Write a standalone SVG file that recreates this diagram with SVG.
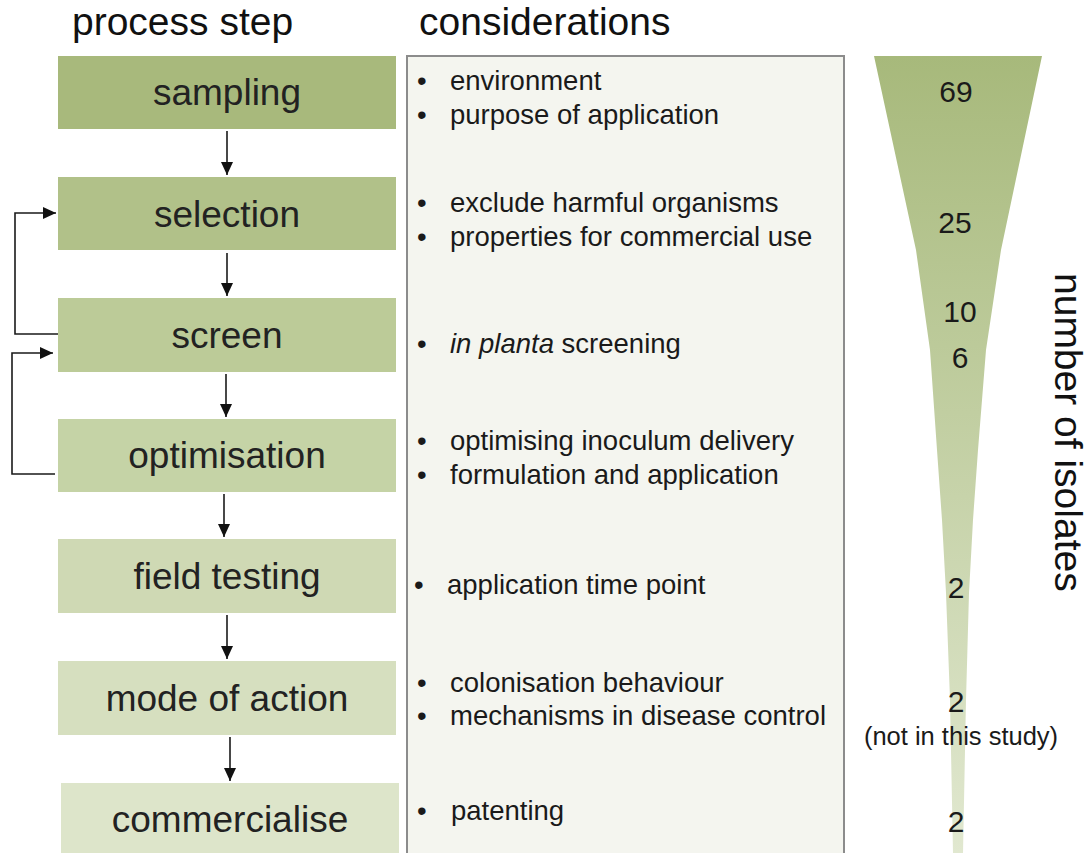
<svg xmlns="http://www.w3.org/2000/svg" width="1090" height="853" viewBox="0 0 1090 853">
<style>
text{font-family:"Liberation Sans",Arial,sans-serif;fill:#1a1a1a}
.head{font-size:39px;fill:#111}
.lbl{font-size:37px;text-anchor:middle;fill:#222}
.bul{font-size:27.5px}
.num{font-size:30px;text-anchor:middle}
.conn{fill:none;stroke:#1a1a1a;stroke-width:1.6}
</style>
<defs>
<marker id="ah" markerUnits="userSpaceOnUse" markerWidth="13" markerHeight="12" refX="13" refY="6" orient="auto">
<path d="M0,0 L13,6 L0,12 Z" fill="#111"/>
</marker>
<linearGradient id="fg" x1="0" y1="56" x2="0" y2="853" gradientUnits="userSpaceOnUse">
<stop offset="0" stop-color="#a7b97b"/>
<stop offset="1" stop-color="#e1e8d0"/>
</linearGradient>
</defs>
<rect width="1090" height="853" fill="#ffffff"/>
<text class="head" x="72" y="35">process step</text>
<text class="head" x="419" y="35">considerations</text>

<g id="node-sampling"><rect x="58" y="56" width="338" height="73" fill="#a8b97c"/><text class="lbl" x="227" y="105">sampling</text></g>
<g id="node-selection"><rect x="58" y="177" width="338" height="73" fill="#b1c189"/><text class="lbl" x="227" y="227">selection</text></g>
<g id="node-screen"><rect x="58" y="298" width="338" height="74" fill="#bccb98"/><text class="lbl" x="227" y="348">screen</text></g>
<g id="node-optimisation"><rect x="58" y="419" width="338" height="73" fill="#c5d3a6"/><text class="lbl" x="227" y="468">optimisation</text></g>
<g id="node-field"><rect x="58" y="539" width="338" height="74" fill="#cfd9b4"/><text class="lbl" x="227" y="589">field testing</text></g>
<g id="node-mode"><rect x="58" y="661" width="338" height="74" fill="#d6dfbf"/><text class="lbl" x="227" y="711">mode of action</text></g>
<g id="node-commercialise"><rect x="61" y="783" width="338" height="80" fill="#dde5ca"/><text class="lbl" x="230" y="832">commercialise</text></g>

<g id="connectors">
<line class="conn" x1="227" y1="131" x2="227" y2="175" marker-end="url(#ah)"/>
<line class="conn" x1="227" y1="253" x2="227" y2="296" marker-end="url(#ah)"/>
<line class="conn" x1="226" y1="374" x2="226" y2="417" marker-end="url(#ah)"/>
<line class="conn" x1="224" y1="494" x2="224" y2="537" marker-end="url(#ah)"/>
<line class="conn" x1="227" y1="615" x2="227" y2="659" marker-end="url(#ah)"/>
<line class="conn" x1="230" y1="737" x2="230" y2="781" marker-end="url(#ah)"/>
<polyline class="conn" points="58,334 15,334 15,213 56,213" marker-end="url(#ah)"/>
<polyline class="conn" points="55,474 12,474 12,353 53,353" marker-end="url(#ah)"/>
</g>

<g id="considerations">
<rect x="407" y="56" width="437" height="810" fill="#f4f5ef" stroke="#8c8c8c" stroke-width="2"/>
<g class="bul">
<text x="417" y="90">•</text><text x="450" y="90">environment</text>
<text x="417" y="124">•</text><text x="450" y="124">purpose of application</text>
<text x="417" y="212">•</text><text x="450" y="212">exclude harmful organisms</text>
<text x="417" y="246">•</text><text x="450" y="246">properties for commercial use</text>
<text x="417" y="353">•</text><text x="450" y="353"><tspan font-style="italic">in planta</tspan> screening</text>
<text x="417" y="450">•</text><text x="450" y="450">optimising inoculum delivery</text>
<text x="417" y="484">•</text><text x="450" y="484">formulation and application</text>
<text x="414" y="594">•</text><text x="447" y="594">application time point</text>
<text x="417" y="692">•</text><text x="450" y="692">colonisation behaviour</text>
<text x="417" y="725">•</text><text x="450" y="725">mechanisms in disease control</text>
<text x="417" y="820">•</text><text x="451" y="820">patenting</text>
</g>
</g>

<g id="funnel">
<path d="M874,56 L916,250 L930,350 L937,450 L942,520 L946,593 L950,700 L953,853 L963,853 L966,700 L969,593 L973,520 L978,450 L986,350 L1001,250 L1042,56 Z" fill="url(#fg)"/>
<text class="num" x="956" y="102">69</text>
<text class="num" x="955" y="233">25</text>
<text class="num" x="960" y="322">10</text>
<text class="num" x="960" y="368">6</text>
<text class="num" x="956" y="598">2</text>
<text class="num" x="956" y="712">2</text>
<text x="961" y="745" font-size="25.5" text-anchor="middle">(not in this study)</text>
<text class="num" x="956" y="832">2</text>
<text class="head" transform="translate(1055,273) rotate(90)">number of isolates</text>
</g>
</svg>
